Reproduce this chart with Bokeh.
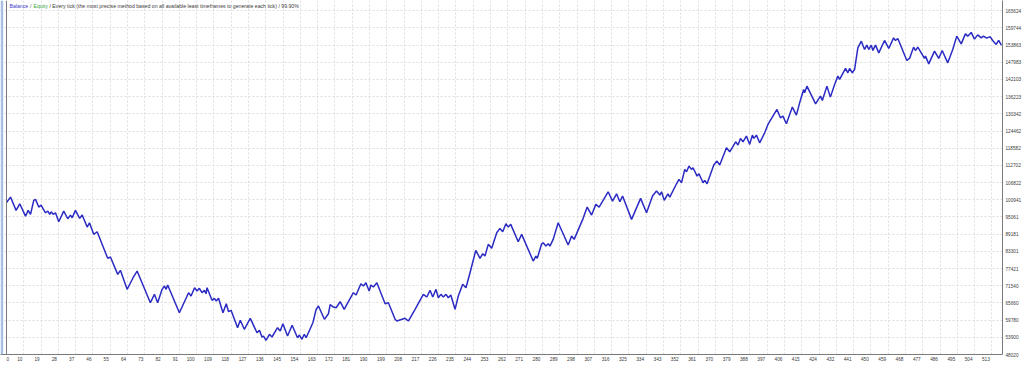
from bokeh.plotting import figure
from bokeh.models import FixedTicker, Span, BoxAnnotation, Label, Range1d
from bokeh.embed import file_html
from bokeh.resources import INLINE

# ---- data (trade number, balance) ----
trades = [0, 2.1, 5.0, 6.9, 9.9, 11.3, 12.5, 14.2, 15.1, 16.8, 18.0, 20.3, 21.5, 22.5, 23.3, 24.3, 25.5, 27.2,
          29.8, 31.9, 33.3, 34.2, 35.9, 38.1, 39.4, 42.0, 43.2, 45.4, 47.2, 52.7, 54.1, 57.9, 59.3, 62.8, 65.9,
          68.0, 74.9, 77.0, 78.7, 81.0, 82.2, 83.1, 83.9, 90.0, 94.8, 96.1, 97.9, 99.2, 100.4, 101.8, 103.0,
          103.9, 104.4, 107.0, 108.2, 109.2, 110.4, 112.7, 114.4, 115.6, 116.9, 120.3, 121.7, 123.8, 126.9,
          130.4, 131.7, 133.0, 133.8, 135.1, 136.9, 138.2, 141.1, 142.5, 143.9, 146.3, 148.7, 151.5, 152.5,
          153.8, 155.0, 156.0, 159.5, 161.2, 162.4, 165.5, 167.6, 168.5, 170.2, 171.6, 173.7, 175.8, 177.2,
          180.6, 182.0, 184.5, 185.8, 187.1, 188.8, 189.7, 191.0, 192.8, 197.1, 198.8, 202.3, 203.2, 207.5,
          209.2, 212.7, 217.0, 218.8, 220.5, 221.9, 223.6, 224.8, 226.1, 227.4, 228.8, 230.0, 231.3, 233.5,
          235.2, 237.5, 239.2, 241.3, 244.3, 246.5, 247.9, 249.1, 250.8, 252.6, 255.2, 256.9, 258.3, 260.0,
          261.2, 262.5, 266.4, 268.2, 274.2, 275.6, 276.3, 278.6, 279.4, 280.8, 282.0, 282.9, 284.6, 287.2,
          292.4, 294.2, 295.5, 300.2, 302.3, 304.6, 306.8, 308.5, 313.2, 315.5, 317.6, 319.3, 320.7, 325.4,
          330.1, 333.2, 336.3, 338.4, 340.1, 341.0, 342.4, 344.3, 345.3, 348.8, 350.1, 351.4, 353.1, 354.0,
          355.3, 356.6, 357.4, 359.5, 360.5, 362.6, 363.5, 364.7, 368.2, 369.9, 371.3, 374.8, 376.5, 379.6,
          380.8, 382.1, 383.4, 385.2, 386.9, 388.3, 389.1, 390.4, 392.1, 394.7, 396.4, 401.1, 402.9, 404.2,
          406.0, 409.1, 411.2, 412.9, 415.0, 415.5, 416.7, 421.2, 423.7, 424.7, 427.1, 428.9, 431.1, 432.8,
          433.7, 436.8, 438.0, 438.9, 440.3, 441.5, 443.2, 445.0, 446.7, 447.9, 448.9, 450.2, 451.0, 452.4,
          454.1, 457.1, 459.3, 461.8, 462.8, 464.0, 468.7, 470.1, 472.2, 473.2, 474.4, 477.9, 478.4, 480.1,
          483.1, 485.3, 487.1, 490.0, 492.6, 494.7, 497.0, 499.2, 500.4, 502.2, 503.9, 505.6, 507.4, 508.6,
          510.3, 512.0, 513.4, 515.2, 516.5, 517.9]
balance = [100000, 101865, 97318, 99574, 95369, 97318, 95950, 100736, 101078, 98446, 99130, 96497, 97078, 95950,
           96839, 95950, 96497, 93420, 97078, 94446, 95711, 94788, 97318, 94583, 95711, 91608, 93078, 89113,
           90002, 80908, 81352, 75438, 76805, 70310, 74276, 76566, 65729, 68601, 65729, 70310, 71438, 70310,
           71780, 62310, 69148, 68019, 70857, 69729, 70652, 69148, 69968, 68806, 70857, 66549, 67233, 66310,
           67233, 62310, 65387, 62652, 63131, 57182, 59712, 56635, 60396, 55473, 56293, 54003, 54345, 52875,
           54926, 54003, 57182, 56054, 58550, 54345, 58003, 53763, 54686, 53216, 54926, 53763, 58891, 63473,
           64601, 60054, 61968, 65045, 64259, 64020, 66071, 63473, 65182, 69148, 68361, 72224, 71438, 72566,
           69729, 71780, 71096, 72566, 65387, 65729, 60054, 59473, 60396, 59473, 63473, 68601, 67678, 69968,
           67678, 70310, 67438, 68601, 67678, 68601, 67438, 68361, 63473, 68019, 72020, 70857, 75985, 83643,
           80908, 82481, 81694, 85694, 84327, 89660, 91164, 90002, 92737, 91608, 92531, 86583, 89113, 79985,
           81694, 80908, 85899, 86241, 85113, 85899, 85113, 87403, 93078, 85455, 88532, 87403, 94583, 98446,
           95711, 99369, 98446, 103676, 100497, 102993, 100258, 102206, 94241, 101420, 96497, 102206, 103916,
           102548, 103676, 100736, 102993, 101865, 106411, 107916, 106753, 111334, 110514, 112462, 111334,
           111881, 109044, 109830, 106753, 107574, 106411, 112804, 114172, 112804, 118719, 117351, 120770,
           119642, 121932, 120770, 122719, 119881, 123060, 121932, 123060, 120428, 123847, 126719, 131847,
           128975, 129556, 126924, 132633, 129898, 134103, 138684, 137522, 139812, 133761, 136393, 134923,
           139812, 136052, 140393, 143231, 142103, 145863, 144359, 145863, 144359, 145521, 152906, 155196,
           152359, 153829, 152359, 153829, 152017, 153829, 151196, 155436, 152701, 156324, 155436, 156119,
           148598, 149282, 153145, 152017, 153145, 149282, 150068, 147436, 151778, 149282, 152017, 147778,
           152359, 156906, 154273, 157692, 156906, 158171, 155880, 157350, 156324, 156906, 156222, 156735,
           155436, 154068, 155436, 153829]

x_tick_labels = ["0", "10", "19", "28", "37", "46", "55", "64", "73", "82", "91", "100", "109", "118", "127",
                 "136", "145", "154", "163", "172", "181", "190", "199", "208", "217", "226", "235", "244",
                 "253", "262", "271", "280", "289", "298", "307", "316", "325", "334", "343", "352", "361",
                 "370", "379", "388", "397", "406", "415", "424", "432", "441", "450", "459", "468", "477",
                 "486", "495", "504", "513"]
y_tick_values = [48020, 53900, 59780, 65660, 71540, 77421, 83301, 89181, 95061, 100941, 106822, 112702,
                 118582, 124462, 130342, 136223, 142103, 147983, 153863, 159744, 165624]
header_parts = ["Balance", "/", "Equity",
                "/ Every tick (the most precise method based on all available least timeframes to generate each tick) / 99.90%"]

# ---- layout ----
PX_PER_TRADE = 1.923
X0 = -6 / PX_PER_TRADE
X1 = 518.5
Y0 = 48020
Y1 = 169100
PX_PER_VAL = (Y1 - Y0) / 354.0

p = figure(width=1024, height=365, output_backend="svg", toolbar_location=None,
           x_range=Range1d(X0, X1), y_range=Range1d(Y0, Y1),
           y_axis_location="right",
           min_border_left=0, min_border_right=21, min_border_top=0, min_border_bottom=11)
p.background_fill_color = "white"
p.border_fill_color = "white"
p.outline_line_color = None

# grid
grid_x = [9 * k for k in range(len(x_tick_labels))]
p.xgrid.ticker = FixedTicker(ticks=grid_x)
p.ygrid.ticker = FixedTicker(ticks=y_tick_values)
for g in (p.xgrid, p.ygrid):
    g.grid_line_color = "#dedede"
    g.grid_line_dash = "2 2"
    g.grid_line_width = 1

# x axis: labels sit just left of their grid lines
label_pos = []
overrides = {}
for i, lab in enumerate(x_tick_labels):
    if i == 0:
        pos = round(1.3 / PX_PER_TRADE, 3)
    else:
        pos = round(grid_x[i] - (len(lab) * 2.0) / PX_PER_TRADE, 3)
    label_pos.append(pos)
    overrides[pos] = lab
xa = p.xaxis[0]
xa.ticker = FixedTicker(ticks=label_pos)
xa.major_label_overrides = overrides
xa.major_tick_in = 0
xa.major_tick_out = 0
xa.minor_tick_in = 0
xa.minor_tick_out = 0
xa.major_label_standoff = 2
xa.axis_line_color = "#7a7a7a"

ya = p.yaxis[0]
ya.ticker = FixedTicker(ticks=y_tick_values)
ya.major_label_overrides = {v: str(v) for v in y_tick_values}
ya.major_tick_in = 0
ya.major_tick_out = 0
ya.minor_tick_in = 0
ya.minor_tick_out = 0
ya.major_label_standoff = 3
ya.axis_line_color = "#7a7a7a"

for ax in (xa, ya):
    ax.major_label_text_font = "Liberation Sans"
    ax.major_label_text_font_size = "4.7px"
    ax.major_label_text_color = "#3c3c3c"

# left edge decorations
p.add_layout(BoxAnnotation(left=X0, right=X0 + 2.7 / PX_PER_TRADE, fill_color="#a9c0e2",
                           fill_alpha=1, line_color=None))
p.add_layout(Span(location=0, dimension="height", line_color="#7a7a7a", line_width=1))

# balance line
p.line(trades, balance, line_color="#2b2bc4", line_width=1.5)

# header text
ty = Y1 - 5 * PX_PER_VAL
cols = ["#3a3ac8", "#505050", "#3aa83a", "#3c3c3c"]
xs_px = [9, 29.5, 33, 49]
for txt, c, xp in zip(header_parts, cols, xs_px):
    p.add_layout(Label(x=X0 + xp / PX_PER_TRADE, y=ty, text=txt, text_color=c,
                       text_font="Liberation Sans", text_font_size="5.2px",
                       text_baseline="middle", text_align="left"))

open("out.html", "w").write(file_html(p, INLINE))
